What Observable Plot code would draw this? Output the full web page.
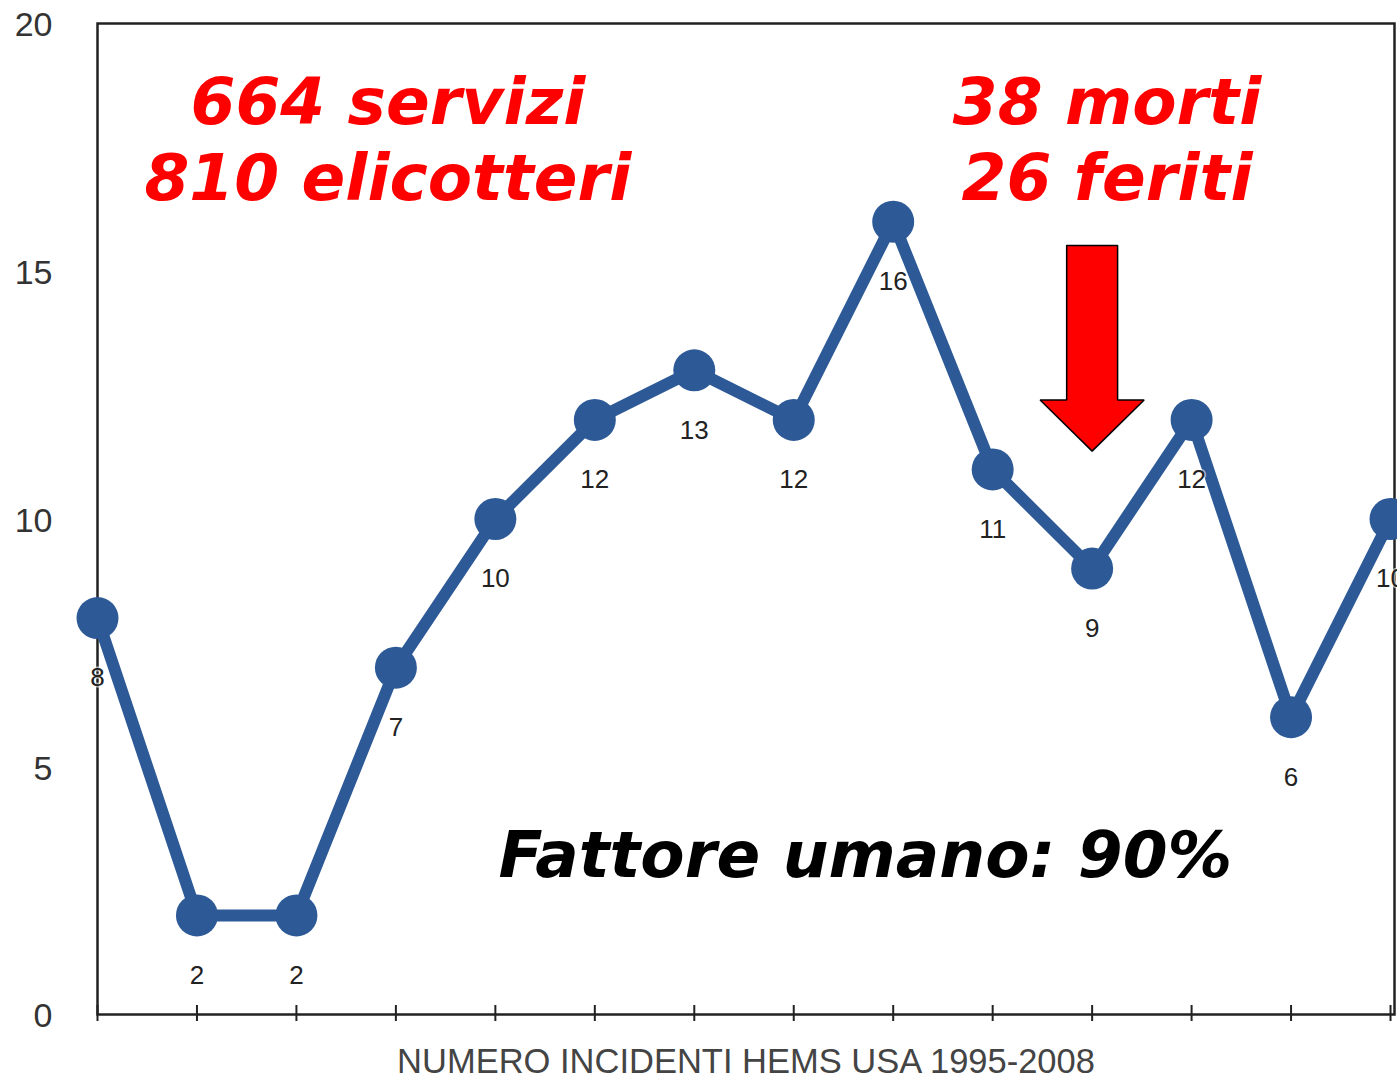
<!DOCTYPE html>
<html>
<head>
<meta charset="utf-8">
<script src="https://cdn.jsdelivr.net/npm/d3@7"></script>
<script src="https://cdn.jsdelivr.net/npm/@observablehq/plot@0.6"></script>
<style>
  html, body { margin: 0; padding: 0; background: #fff; }
  #chart svg { display: block; }
</style>
</head>
<body>
<div id="chart"></div>
<script>
// ---- data ----
const years = [1995, 1996, 1997, 1998, 1999, 2000, 2001, 2002, 2003, 2004, 2005, 2006, 2007, 2008];
const incidents = [8, 2, 2, 7, 10, 12, 13, 12, 16, 11, 9, 12, 6, 10];
const yTicks = [0, 5, 10, 15, 20];
const xTitle = "NUMERO INCIDENTI HEMS USA 1995-2008";

// annotations (data coordinates)
const noteLeft = ["664 servizi\n810 elicotteri"];
const noteLeftAt = [1997.92, 17.7];
const noteRight = ["38 morti\n26 feriti"];
const noteRightAt = [2005.15, 17.7];
const noteBottom = ["Fattore umano: 90%"];
const noteBottomAt = [2002.72, 3.27];

// block arrow pointing to 2005 (year, top, head base, tip, half widths in years)
const arrowYear = 2005;
const arrowTop = 15.52, arrowHeadBase = 12.4, arrowTip = 11.37;
const arrowShaftHalf = 0.256, arrowHeadHalf = 0.523;

const data = years.map((year, i) => ({year, value: incidents[i]}));
const arrow = [
  {x: arrowYear - arrowShaftHalf, y: arrowTop},
  {x: arrowYear + arrowShaftHalf, y: arrowTop},
  {x: arrowYear + arrowShaftHalf, y: arrowHeadBase},
  {x: arrowYear + arrowHeadHalf, y: arrowHeadBase},
  {x: arrowYear, y: arrowTip},
  {x: arrowYear - arrowHeadHalf, y: arrowHeadBase},
  {x: arrowYear - arrowShaftHalf, y: arrowHeadBase},
  {x: arrowYear - arrowShaftHalf, y: arrowTop}
];

const blue = "#2d5a97";
const noteFont = {fontFamily: "DejaVu Sans, Verdana, sans-serif", fontWeight: "bold", fontStyle: "italic", fontSize: 64.5, lineHeight: 1.18};

const chart = Plot.plot({
  width: 1397,
  height: 1085,
  marginLeft: 97,
  marginRight: 3,
  marginTop: 23,
  marginBottom: 71,
  style: {fontFamily: "Liberation Sans, Arial, Helvetica, sans-serif", background: "#fff"},
  x: {type: "linear", domain: [1995, 2008.04]},
  y: {domain: [0, 20]},
  marks: [
    Plot.axisY({ticks: yTicks, tickSize: 0, tickPadding: 45, fontSize: 34, fill: "#333", dy: 2, label: null}),
    Plot.axisX({ticks: years, tickSize: 16, dy: -9, tickFormat: () => "", label: null, stroke: "#222", strokeWidth: 2}),
    Plot.frame({stroke: "#222", strokeWidth: 2.5}),
    Plot.line(data, {x: "year", y: "value", stroke: blue, strokeWidth: 12, strokeLinejoin: "round"}),
    Plot.dot(data, {x: "year", y: "value", r: 21, fill: blue}),
    Plot.text(data, {x: "year", y: "value", text: d => String(d.value), dy: 60, fontSize: 26, fill: "#222", stroke: "#fff", strokeWidth: 3, strokeOpacity: 0.6}),
    Plot.line(arrow, {x: "x", y: "y", fill: "#ff0000", stroke: "#000", strokeWidth: 1.5, strokeLinejoin: "miter", curve: "linear"}),
    Plot.text(noteLeft, {x: () => noteLeftAt[0], y: () => noteLeftAt[1], text: d => d, fill: "#ff0000", ...noteFont}),
    Plot.text(noteRight, {x: () => noteRightAt[0], y: () => noteRightAt[1], text: d => d, fill: "#ff0000", ...noteFont}),
    Plot.text(noteBottom, {x: () => noteBottomAt[0], y: () => noteBottomAt[1], text: d => d, fill: "#000", ...noteFont}),
    Plot.text([xTitle], {frameAnchor: "bottom", dy: 58, text: d => d, fontSize: 34.5, fill: "#444"})
  ]
});
document.getElementById("chart").append(chart);
</script>
</body>
</html>
